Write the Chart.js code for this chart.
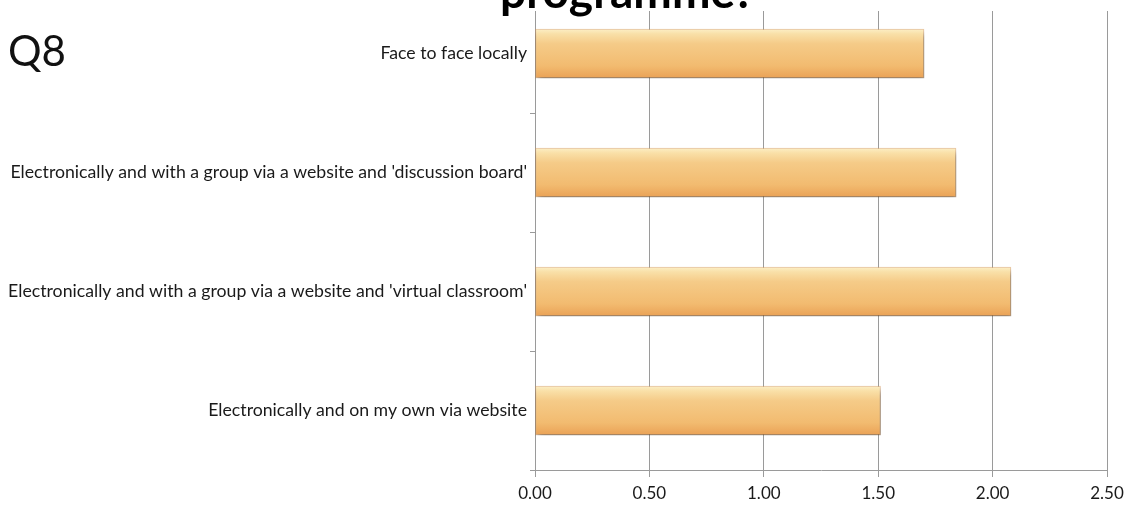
<!DOCTYPE html>
<html>
<head>
<meta charset="utf-8">
<script src="https://cdn.jsdelivr.net/npm/chart.js@4.4.1/dist/chart.umd.min.js"></script>
<style>
  html, body { margin: 0; padding: 0; background: #ffffff; overflow: hidden; }
  #wrap { position: absolute; left: 0; top: -20px; width: 1125px; height: 531px; }
</style>
</head>
<body>
<div id="wrap"><canvas id="c" width="1125" height="531"></canvas></div>
<script>
// Delivery options and their average ratings
const categories = [
  "Face to face locally",
  "Electronically and with a group via a website and 'discussion board'",
  "Electronically and with a group via a website and 'virtual classroom'",
  "Electronically and on my own via website"
];
const averages = [1.70, 1.84, 2.08, 1.51];
const xTicks = [0, 0.5, 1, 1.5, 2, 2.5];
const headingText = "programme?";
const questionLabel = "Q8";

const BAR_H = 49;
const FONT = "Lato, 'Liberation Sans', sans-serif";

// Vertical orange gradient per bar, positioned from the category scale
function barFill(ctx) {
  const chart = ctx.chart;
  const yScale = chart.scales.y;
  if (!chart.chartArea || !yScale) return '#f3c27c';
  const yc = yScale.getPixelForValue(ctx.dataIndex);
  const g = chart.ctx.createLinearGradient(0, yc - BAR_H / 2, 0, yc + BAR_H / 2);
  g.addColorStop(0.00, '#fcefc6');
  g.addColorStop(0.10, '#f9e0a8');
  g.addColorStop(0.30, '#f5cb88');
  g.addColorStop(0.75, '#f2bb70');
  g.addColorStop(1.00, '#eaa256');
  return g;
}

// Soft drop shadow under the bars
const barShadow = {
  id: 'barShadow',
  beforeDatasetsDraw(chart) {
    const c = chart.ctx;
    c.save();
    c.shadowColor = 'rgba(0,0,0,0.45)';
    c.shadowBlur = 6;
    c.shadowOffsetX = 2;
    c.shadowOffsetY = 4;
  },
  afterDatasetsDraw(chart) {
    chart.ctx.restore();
  }
};

// Heading band (partly off the top) and question number
const headings = {
  id: 'headings',
  afterDraw(chart) {
    const c = chart.ctx;
    c.save();
    c.fillStyle = '#ffffff';
    c.fillRect(0, 0, chart.width, 31);
    c.fillStyle = '#000000';
    c.textBaseline = 'alphabetic';
    c.textAlign = 'left';
    c.font = "bold 46px " + FONT;
    c.fillText(headingText, 500, 28);
    c.font = "42px " + FONT;
    c.fillStyle = '#111111';
    c.fillText(questionLabel, 8, 86);
    c.restore();
  }
};

new Chart(document.getElementById('c'), {
  type: 'bar',
  data: {
    labels: categories,
    datasets: [{
      data: averages,
      backgroundColor: barFill,
      borderColor: 'rgba(222,152,82,0.5)',
      borderWidth: 1,
      borderSkipped: false,
      barThickness: BAR_H
    }]
  },
  options: {
    indexAxis: 'y',
    responsive: false,
    animation: false,
    devicePixelRatio: 1,
    layout: { padding: { top: 14, right: 18, bottom: 0, left: 0 } },
    plugins: {
      legend: { display: false },
      tooltip: { enabled: false },
      title: { display: false }
    },
    scales: {
      x: {
        type: 'linear',
        min: 0,
        max: 2.5,
        afterBuildTicks(scale) {
          scale.ticks = xTicks.map(v => ({ value: v }));
        },
        afterFit(scale) {
          scale.height = 41;
          scale.paddingLeft = 0;
          scale.paddingRight = 0;
        },
        grid: {
          color: '#9a9a9a',
          lineWidth: 1,
          tickLength: 7,
          drawTicks: true
        },
        border: { display: true, color: '#9a9a9a', width: 1 },
        ticks: {
          color: '#1a1a1a',
          font: { family: FONT, size: 17 },
          padding: 6,
          callback: v => Number(v).toFixed(2)
        }
      },
      y: {
        type: 'category',
        afterFit(scale) {
          scale.width = 535;
          scale.paddingTop = 0;
          scale.paddingBottom = 0;
        },
        grid: {
          offset: true,
          drawOnChartArea: false,
          color: '#9a9a9a',
          tickLength: 5
        },
        border: { display: true, color: '#9a9a9a', width: 1 },
        ticks: {
          color: '#1a1a1a',
          font: { family: FONT, size: 17.7 },
          padding: 3
        }
      }
    }
  },
  plugins: [barShadow, headings]
});
</script>
</body>
</html>
